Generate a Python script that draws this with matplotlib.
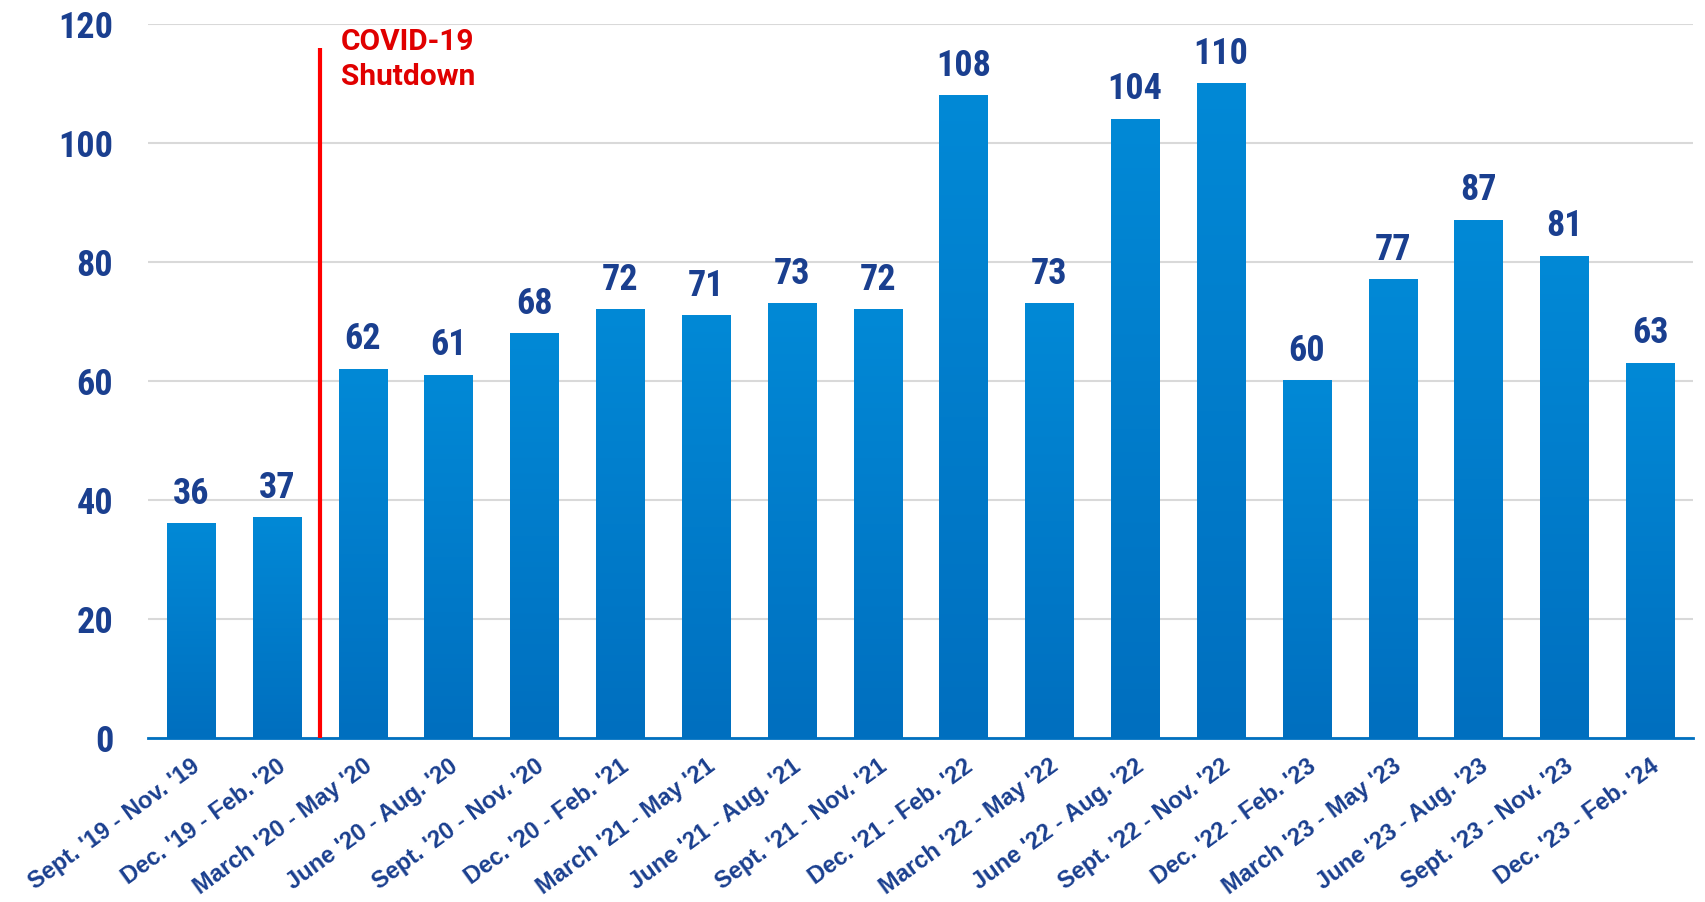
import matplotlib
matplotlib.use("Agg")
import matplotlib.pyplot as plt
import numpy as np
from matplotlib.colors import LinearSegmentedColormap

categories = ["Sept. '19 - Nov. '19", "Dec. '19 - Feb. '20", "March '20 - May '20",
              "June '20 - Aug. '20", "Sept. '20 - Nov. '20", "Dec. '20 - Feb. '21",
              "March '21 - May '21", "June '21 - Aug. '21", "Sept. '21 - Nov. '21",
              "Dec. '21 - Feb. '22", "March '22 - May '22", "June '22 - Aug. '22",
              "Sept. '22 - Nov. '22", "Dec. '22 - Feb. '23", "March '23 - May '23",
              "June '23 - Aug. '23", "Sept. '23 - Nov. '23", "Dec. '23 - Feb. '24"]
values = [36, 37, 62, 61, 68, 72, 71, 73, 72, 108, 73, 104, 110, 60, 77, 87, 81, 63]
yticks = [0, 20, 40, 60, 80, 100, 120]
covid_x = 1.5
covid_top = 116
covid_label = "COVID-19\nShutdown"

navy = "#1A3F8F"
top_col = "#0289D6"
bot_col = "#006FBF"

fig = plt.figure(figsize=(17.06, 9.02), dpi=100)
ax = fig.add_axes([148/1706, 1 - 738/902, (1693-148)/1706, (738-24)/902])

x = np.arange(len(values))
bars = ax.bar(x, values, width=0.56, color=bot_col, zorder=2)

cmap = LinearSegmentedColormap.from_list("g", [bot_col, top_col])
grad = np.linspace(0, 1, 256).reshape(-1, 1)
for b in bars:
    x0, w, h = b.get_x(), b.get_width(), b.get_height()
    ax.imshow(grad, cmap=cmap, origin="lower", aspect="auto",
              extent=(x0, x0 + w, 0, h), zorder=2.5, interpolation="bilinear")

num_font = ["Roboto Condensed", "Liberation Sans Narrow", "Roboto", "DejaVu Sans"]
for xi, v in zip(x, values):
    ax.text(xi, v + 2.0, str(v), ha="center", va="bottom", fontsize=26,
            fontweight="bold", color=navy, family=num_font, zorder=4)

ax.set_xlim(-0.5, len(values) - 0.5)
ax.set_ylim(0, 120)
ax.set_yticks(yticks)
ax.set_yticklabels([str(t) for t in yticks], fontsize=26, fontweight="bold",
                   color=navy, family=num_font)
ax.tick_params(axis="y", length=0, pad=25)
ax.set_xticks(x)
ax.set_xticklabels(categories, rotation=36, ha="right", va="top",
                   rotation_mode="anchor", fontsize=17, fontweight="bold",
                   color=navy, family=["Liberation Sans", "DejaVu Sans"])
ax.tick_params(axis="x", length=0, pad=12)

ax.grid(axis="y", color="#D9D9D9", linewidth=1.5, zorder=0)
ax.set_axisbelow(True)
for s in ["top", "right", "left"]:
    ax.spines[s].set_visible(False)
ax.spines["bottom"].set_color("#0070C0")
ax.spines["bottom"].set_linewidth(2)
ax.spines["bottom"].set_zorder(5)

ax.plot([covid_x, covid_x], [0, covid_top], color="#FF0000", linewidth=3,
        zorder=6, solid_capstyle="butt")
ax.text(covid_x + 0.25, 119.4, covid_label, ha="left", va="top", fontsize=21.5,
        fontweight="bold", color="#E00000", family=["Roboto", "DejaVu Sans"],
        linespacing=1.35, zorder=6)

fig.savefig("out.png", dpi=100)
